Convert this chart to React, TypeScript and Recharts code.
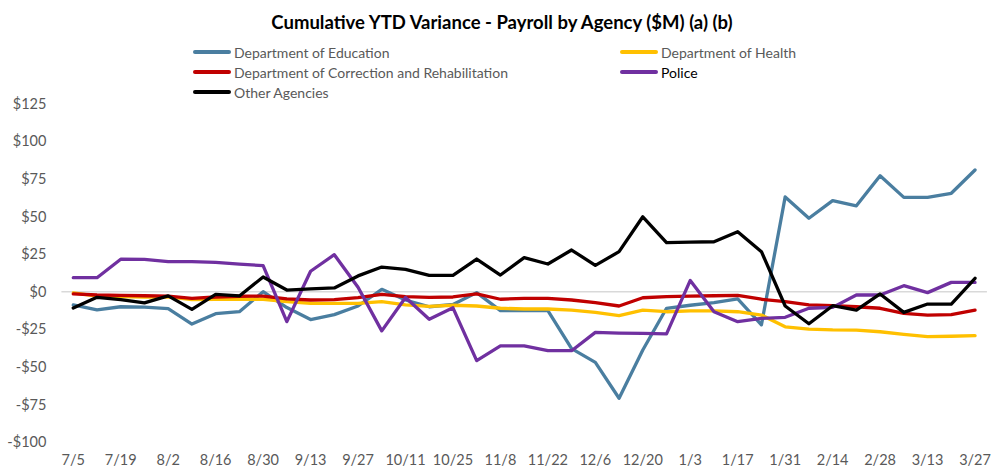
import React from 'react';
import { LineChart, Line, XAxis, YAxis, CartesianGrid } from 'recharts';

const dates = ['7/5','7/12','7/19','7/26','8/2','8/9','8/16','8/23','8/30','9/6','9/13','9/20','9/27','10/4','10/11','10/18','10/25','11/1','11/8','11/15','11/22','11/29','12/6','12/13','12/20','12/27','1/3','1/10','1/17','1/24','1/31','2/7','2/14','2/21','2/28','3/6','3/13','3/20','3/27'];

const education = [-8.8,-12,-10,-10.2,-11.3,-21.5,-14.6,-13.3,0,-10.5,-18.5,-15.2,-9.5,1.6,-5.5,-10,-8.5,-0.6,-12.6,-12.6,-12.6,-37.8,-47,-70.8,-38.7,-11,-9,-7.3,-4.8,-22,63,48.8,60.5,57.1,77,62.7,62.7,65.4,80.9];
const health = [-0.8,-3,-3.3,-3.5,-3.5,-5.2,-5,-5,-5,-6.6,-7.7,-7.7,-7.7,-6.6,-8.8,-9.8,-9,-9.5,-11,-11.5,-11.5,-12.2,-13.7,-15.9,-12.2,-13.3,-12.8,-12.8,-13.3,-15.5,-23.3,-24.8,-25.4,-25.5,-26.6,-28.3,-29.9,-29.6,-29.2];
const correction = [-1.5,-2.2,-2.5,-2.7,-2.9,-4.4,-3.5,-3,-2.9,-4.8,-5.5,-5.2,-3.9,-1.8,-3.3,-3.7,-3.5,-1.5,-5,-4.4,-4.4,-5.5,-7.3,-9.5,-4,-3.3,-2.9,-2.7,-2.4,-5,-6.6,-8.8,-9.3,-10,-11,-14.4,-15.5,-15.2,-12.2];
const police = [9.3,9.3,21.6,21.5,20,20,19.5,18.4,17.3,-19.9,13.6,24.6,3,-26,-3.8,-18.3,-10.7,-45.8,-36,-36,-39.2,-39.2,-27,-27.5,-27.7,-28,7.5,-13.3,-19.9,-17.7,-17,-11,-10.4,-2.2,-2.2,4,-0.6,6.2,6.2];
const other = [-10.8,-3.7,-5.2,-7.4,-2.8,-11.7,-1.8,-2.8,9.8,1.1,1.9,2.5,10.5,16.4,14.9,10.8,10.8,21.7,11.1,22.6,18.4,27.7,17.5,26.6,49.8,32.6,33,33.2,39.9,26.6,-9.5,-21.3,-9.3,-12.2,-1.5,-13.7,-8.2,-8.2,8.9];

const yTicks = [-100, -75, -50, -25, 0, 25, 50, 75, 100, 125];

const seriesNames = ['Department of Education', 'Department of Health', 'Department of Correction and Rehabilitation', 'Police', 'Other Agencies'];
const seriesKeys = ['education', 'health', 'correction', 'police', 'other'];
const seriesColors = ['#4A7EA0', '#FFC000', '#C00000', '#7030A0', '#000000'];

const data = dates.map((d, i) => ({
  date: d,
  education: education[i],
  health: health[i],
  correction: correction[i],
  police: police[i],
  other: other[i],
}));

const FONT = 'Lato, "Open Sans", sans-serif';

const fmt = (v: number) => (v < 0 ? `-$${Math.abs(v)}` : `$${v}`);

const legendPos = [
  { left: 193, top: 43 },
  { left: 620, top: 43 },
  { left: 193, top: 63 },
  { left: 620, top: 63 },
  { left: 193, top: 83 },
];

export default function App() {
  return (
    <div style={{ position: 'absolute', left: 0, top: 0, width: 994, height: 473, background: '#fff', fontFamily: FONT }}>
      <div style={{ position: 'absolute', left: 0, top: 9, width: 1004, textAlign: 'center', fontWeight: 700, fontSize: 18.5, color: '#000', lineHeight: '26px' }}>
        Cumulative YTD Variance - Payroll by Agency ($M) (a) (b)
      </div>
      {seriesNames.map((n, i) => (
        <div key={n} style={{ position: 'absolute', left: legendPos[i].left, top: legendPos[i].top, height: 18, display: 'flex', alignItems: 'center', fontSize: 14, color: n === 'Police' ? '#000' : '#595959', whiteSpace: 'nowrap' }}>
          <div style={{ width: 38, height: 4, background: seriesColors[i], borderRadius: 2, marginRight: 3 }} />
          <span>{n}</span>
        </div>
      ))}
      <div style={{ position: 'absolute', left: 0, top: 0 }}>
        <LineChart width={994} height={473} data={data} margin={{ top: 103.6, right: 7.1, bottom: 5.8, left: 0 }}>
          <CartesianGrid
            vertical={false}
            stroke="#d9d9d9"
            strokeWidth={1.5}
            horizontalCoordinatesGenerator={(props: any) => {
              const s = props && props.yAxis && props.yAxis.scale;
              if (s && typeof s === 'function') return [s(0)];
              if (s && typeof s.map === 'function') return [s.map(0)];
              return [];
            }}
          />
          <XAxis
            dataKey="date"
            interval={1}
            axisLine={false}
            tickLine={false}
            tickSize={0}
            tickMargin={13}
            height={25}
            padding={{ left: 11.87, right: 11.87 }}
            tick={{ fill: '#595959', fontSize: 14.5, fontFamily: FONT }}
          />
          <YAxis
            domain={[-100, 125]}
            ticks={yTicks}
            tickFormatter={fmt}
            axisLine={false}
            tickLine={false}
            tickSize={0}
            tickMargin={15}
            width={61.4}
            tick={{ fill: '#595959', fontSize: 14.5, fontFamily: FONT }}
          />
          {seriesKeys.map((k, i) => (
            <Line key={k} type="linear" dataKey={k} name={seriesNames[i]} stroke={seriesColors[i]} strokeWidth={3.3} dot={false} isAnimationActive={false} strokeLinejoin="round" strokeLinecap="round" />
          ))}
        </LineChart>
      </div>
    </div>
  );
}
